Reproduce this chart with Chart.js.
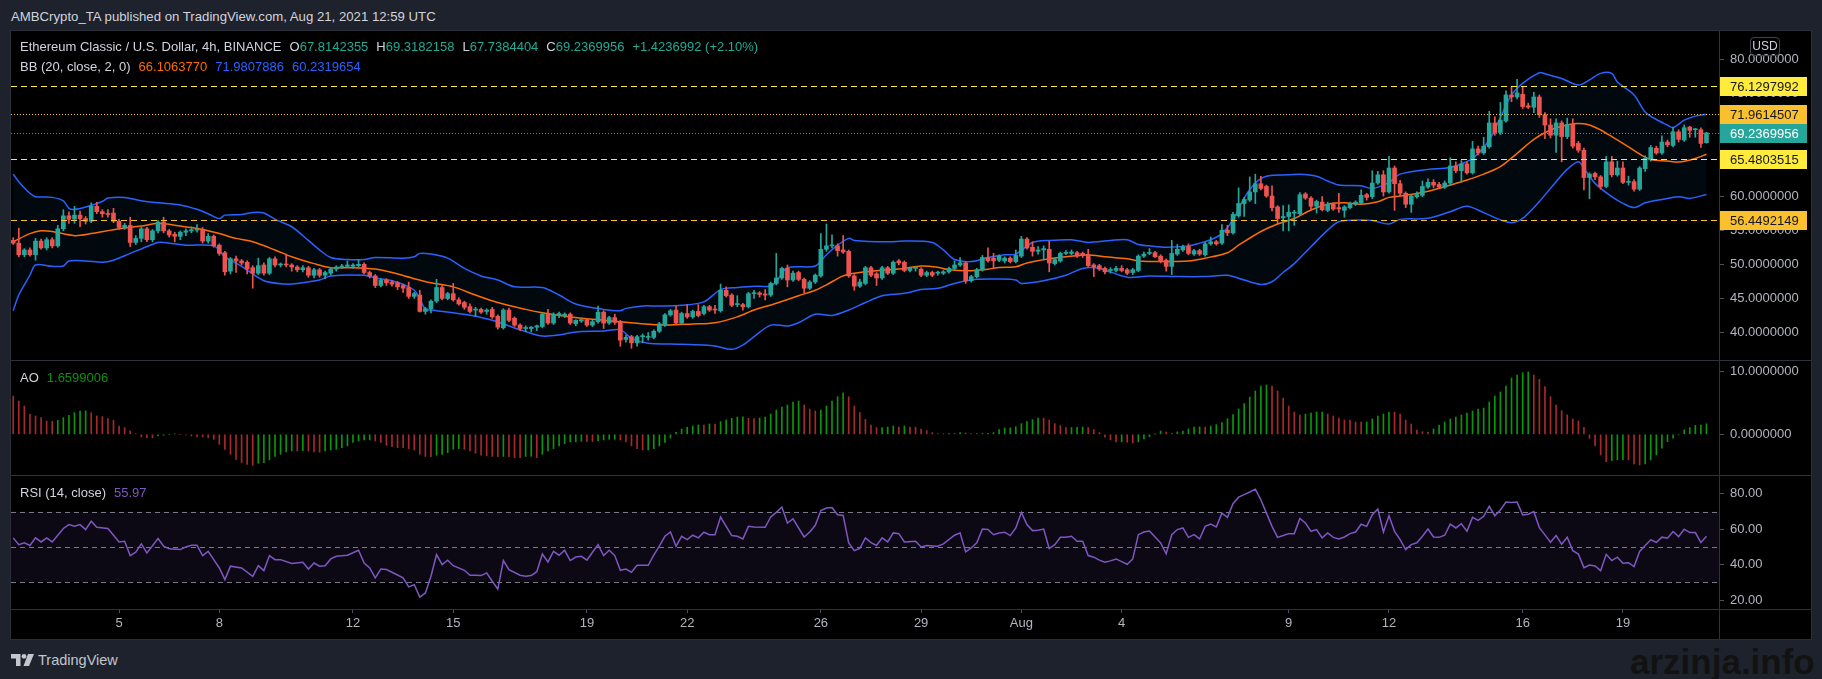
<!DOCTYPE html>
<html>
<head>
<meta charset="utf-8">
<title>ETCUSD 4h</title>
<script src="https://cdn.jsdelivr.net/npm/chart.js@4.4.0/dist/chart.umd.min.js"></script>
<style>
  html, body { margin: 0; padding: 0; }
  body { width: 1822px; height: 679px; background: #1e222d; position: relative; overflow: hidden;
         font-family: "Liberation Sans", Arial, sans-serif; }
  #title { position: absolute; left: 11px; top: 8px; font-size: 13.2px; line-height: 18px; color: #d1d4dc; white-space: pre; }
  #panel { position: absolute; left: 10px; top: 30px; width: 1802px; height: 610px; box-sizing: border-box;
           border: 1px solid #2a2e39; background: #000; }
  .pane { position: absolute; left: 0; width: 1800px; }
  .sep { position: absolute; background: #2e323d; }
  .leg { position: absolute; left: 9px; font-size: 13px; line-height: 16px; color: #d1d4dc; white-space: pre; }
  .leg span { margin-left: 8px; }
  .teal { color: #22ab94; font-weight: normal; }
  #usd { position: absolute; left: 1739px; top: 6px; width: 30px; height: 19px; box-sizing: border-box;
         border: 1px solid #434651; border-radius: 4px; color: #d1d4dc; font-size: 12px; line-height: 17px; text-align: center; }
  #tv { position: absolute; left: 11px; top: 651px; height: 18px; }
  #tvtext { position: absolute; left: 38px; top: 651px; font-size: 14.5px; line-height: 18px; color: #c3c6ce; }
  #wm { position: absolute; left: 1630px; top: 644px; font-size: 35px; line-height: 35px; font-weight: 900; color: #121212; white-space: pre; }
</style>
</head>
<body>
<div id="title">AMBCrypto_TA published on TradingView.com, Aug 21, 2021 12:59 UTC</div>
<div id="panel">
  <div class="pane" style="top:0;height:329px"><canvas id="priceChart"></canvas></div>
  <div class="pane" style="top:330px;height:114px"><canvas id="aoChart"></canvas></div>
  <div class="pane" style="top:445px;height:163px"><canvas id="rsiChart"></canvas></div>
  <div class="sep" style="left:0;top:329px;width:1800px;height:1px"></div>
  <div class="sep" style="left:0;top:444px;width:1800px;height:1px"></div>
  <div class="sep" style="left:0;top:578px;width:1800px;height:1px"></div>
  <div class="sep" style="left:1708px;top:0;width:1px;height:608px"></div>
  <div class="leg" style="top:8px">Ethereum Classic / U.S. Dollar, 4h, BINANCE<span>O<b class="teal">67.8142355</b></span><span>H<b class="teal">69.3182158</b></span><span>L<b class="teal">67.7384404</b></span><span>C<b class="teal">69.2369956</b></span><span class="teal">+1.4236992 (+2.10%)</span></div>
  <div class="leg" style="top:28px">BB (20, close, 2, 0)<span style="color:#ff6d00">66.1063770</span><span style="color:#2962ff">71.9807886</span><span style="color:#2962ff">60.2319654</span></div>
  <div id="usd">USD</div>
  <div class="leg" style="top:339px">AO<span style="color:#0f8f0f">1.6599006</span></div>
  <div class="leg" style="top:454px">RSI (14, close)<span style="color:#7e57c2">55.97</span></div>
</div>
<svg id="tv" width="24" height="14" viewBox="0 0 24 14">
  <path d="M0 1 H9.5 V13 H5 V5.5 H0 Z" fill="#c3c6ce"/>
  <circle cx="13" cy="3.3" r="2.4" fill="#c3c6ce"/>
  <path d="M17 1 H23 L18 13 H12.5 Z" fill="#c3c6ce"/>
</svg>
<div id="tvtext">TradingView</div>
<div id="wm">arzinja.info</div>

<script>
// Velas 4h ETC/USD, índice 0 = 1 jul 20:00
const candleOpen = [
  53.5,53.1,51.4,52.1,51.4,53.4,52.4,53.6,52.7,55.2,
  57.1,56.6,57.2,56.7,56.3,58.5,57.7,57.4,57.5,56.3,
  55.4,55.7,53.2,53.8,55.2,53.6,54.9,56.2,54.9,54.4,
  54.1,54.7,54.9,55.0,55.1,53.4,54.1,52.8,51.7,49.0,
  50.8,50.5,50.3,49.5,48.7,49.9,48.7,50.8,49.9,50.0,
  49.9,49.6,49.2,49.5,48.4,49.2,48.4,48.7,49.3,49.6,
  49.7,49.7,49.8,50.0,48.8,48.3,46.9,47.7,47.4,47.3,
  46.9,46.6,45.3,45.5,43.1,43.5,44.6,46.6,45.0,45.7,
  44.8,44.4,43.8,43.3,43.4,43.1,43.4,42.4,40.7,43.3,
  42.1,41.1,40.6,40.6,40.8,40.9,42.7,41.4,42.5,42.5,
  42.7,41.3,41.7,41.9,41.1,41.6,43.0,41.4,42.2,41.6,
  39.0,39.4,38.5,39.4,39.3,39.3,40.2,41.1,42.6,43.3,
  41.4,42.8,42.3,43.1,42.8,43.8,43.4,43.2,46.2,45.5,
  44.1,44.1,43.8,45.7,45.8,45.6,45.5,47.2,48.0,49.4,
  47.7,48.8,47.8,46.5,47.4,48.3,52.2,52.7,52.7,52.1,
  51.9,48.3,46.8,47.2,49.5,48.6,48.0,49.5,48.7,50.5,
  50.3,49.1,49.4,49.3,48.4,48.8,48.7,48.7,48.9,49.4,
  49.9,50.2,47.6,48.2,49.2,51.0,50.9,50.6,50.5,50.9,
  50.4,51.2,53.7,52.5,51.9,52.1,52.2,50.1,50.5,51.6,
  51.6,51.7,51.6,51.4,49.9,49.8,49.4,49.1,49.1,49.4,
  49.2,48.8,49.1,51.2,51.6,51.7,51.2,50.6,49.7,51.5,
  52.1,52.6,51.5,52.0,51.4,53.0,53.3,53.1,55.0,54.6,
  57.1,58.9,59.4,60.6,61.8,61.4,60.0,58.4,56.8,57.0,
  57.5,57.4,60.3,59.7,58.5,59.1,57.9,58.8,58.3,57.9,
  58.3,58.8,59.0,60.2,59.9,61.9,63.1,60.6,64.1,61.8,
  60.4,58.8,59.9,60.1,61.3,62.0,61.7,61.3,61.9,64.4,
  63.7,64.7,63.4,66.9,66.3,67.2,70.7,69.3,71.0,74.8,
  74.5,74.9,73.2,73.0,74.5,71.9,70.4,68.9,70.7,68.7,
  70.5,67.7,66.7,62.7,63.3,62.8,61.4,65.0,63.1,64.1,
  62.0,62.1,61.0,64.0,65.3,67.0,66.3,67.9,67.4,69.4,
  68.2,70.1,69.7,69.7,67.81
];
const candleHigh = [
  53.9,55.3,52.3,52.4,53.8,53.7,53.9,53.9,55.7,58.0,
  57.7,58.5,57.8,57.0,59.0,59.1,58.0,58.0,58.2,56.6,
  56.0,56.9,54.2,55.4,55.4,55.1,56.4,56.9,55.1,54.7,
  54.9,55.2,55.5,55.8,55.4,54.5,54.3,53.0,51.9,51.0,
  51.2,50.7,50.5,49.8,50.9,50.2,51.0,51.1,50.2,51.5,
  50.1,49.8,49.8,49.7,49.4,49.4,49.0,49.5,49.8,50.0,
  50.5,50.1,50.7,50.2,49.0,48.5,47.9,47.9,47.6,47.5,
  47.1,47.4,45.9,46.2,43.7,44.8,47.8,46.9,45.9,47.2,
  45.1,44.6,44.2,43.7,43.6,43.5,43.7,42.6,43.5,43.6,
  42.3,41.3,41.0,40.9,41.1,42.9,43.4,42.9,43.0,42.9,
  42.9,41.9,42.1,42.1,41.8,43.9,43.2,42.4,42.7,41.8,
  39.6,39.6,39.6,39.8,40.0,40.4,41.5,42.8,43.4,43.9,
  43.0,44.1,43.3,44.1,44.0,44.0,44.0,47.1,46.7,45.7,
  45.4,44.3,45.9,46.2,46.0,46.3,47.4,51.6,49.6,49.9,
  49.0,49.0,48.0,47.6,48.6,54.5,55.9,54.3,53.0,54.2,
  52.1,48.5,47.8,49.7,49.7,48.8,49.7,49.7,50.5,50.7,
  50.5,49.6,49.7,49.5,49.0,49.0,49.0,49.1,49.6,50.5,
  51.0,50.4,48.4,49.4,51.3,52.4,51.6,51.4,51.1,51.1,
  52.1,54.1,53.9,53.3,52.6,52.7,53.4,50.9,51.8,52.0,
  52.1,51.9,51.8,52.2,50.1,50.0,49.6,49.5,49.7,49.8,
  49.4,49.4,51.4,51.8,52.3,51.9,51.4,50.8,53.5,52.9,
  52.8,53.0,52.2,52.2,53.2,54.0,53.5,55.8,55.7,57.6,
  61.2,59.8,62.8,63.2,62.9,61.6,61.5,58.6,58.6,58.7,
  57.9,60.5,60.5,59.9,59.4,59.9,59.1,59.0,60.4,58.6,
  59.1,59.3,60.9,60.4,63.7,63.6,63.7,65.8,64.4,62.3,
  60.6,60.2,60.6,62.2,62.5,62.4,62.0,62.2,65.6,65.0,
  65.2,65.0,68.0,67.3,68.6,72.4,71.6,73.7,75.4,75.9,
  77.1,76.0,73.6,75.2,74.8,72.2,71.3,71.3,71.0,71.4,
  71.3,68.0,67.0,63.4,63.5,63.0,65.8,65.8,65.1,65.0,
  62.9,62.4,64.3,65.9,67.4,67.3,68.8,68.2,70.1,69.7,
  70.4,70.2,69.9,70.0,69.32
];
const candleLow = [
  52.9,51.1,51.1,51.2,50.6,52.2,52.1,52.4,52.5,54.9,
  56.0,56.0,55.5,55.9,56.1,57.4,56.9,56.9,56.1,55.1,
  55.1,52.6,52.9,53.3,53.3,53.3,54.6,54.6,54.0,53.3,
  53.6,54.2,54.6,54.7,53.1,53.1,52.5,51.3,48.4,48.6,
  48.8,49.9,48.6,46.5,48.5,48.4,48.5,49.6,49.6,49.6,
  49.0,48.9,48.9,48.1,48.0,48.1,47.9,48.4,49.0,49.4,
  49.5,49.4,49.6,48.6,48.0,46.6,46.7,46.9,46.8,46.3,
  45.9,45.0,45.0,43.0,42.7,42.9,44.4,44.8,44.8,44.6,
  44.0,43.4,42.9,42.4,42.8,42.7,42.1,40.5,40.5,41.6,
  40.9,40.3,40.1,40.1,40.3,40.7,41.2,41.2,42.2,42.2,
  41.2,41.0,41.5,40.9,40.9,41.4,40.6,41.2,41.2,38.0,
  38.6,37.7,38.0,38.5,38.9,39.1,40.0,40.9,42.4,41.2,
  41.2,42.1,42.1,42.3,42.6,43.1,42.8,43.0,45.2,43.8,
  43.8,43.3,43.6,45.0,45.2,44.8,45.3,47.0,47.8,46.7,
  47.5,47.6,45.8,46.3,47.2,48.1,51.9,52.4,51.2,51.6,
  48.1,46.2,46.6,47.0,48.2,46.9,47.8,48.5,48.5,49.9,
  48.9,48.9,49.0,48.2,48.2,48.2,48.4,48.5,48.7,49.2,
  49.7,47.2,47.4,48.0,49.0,50.3,49.4,50.4,50.2,50.2,
  50.2,51.0,52.2,51.2,51.5,50.6,48.9,49.9,50.3,51.4,
  51.4,51.0,51.0,49.6,48.2,49.1,48.6,48.7,48.9,48.9,
  48.5,48.5,48.9,51.0,51.4,51.0,50.2,49.0,48.5,51.3,
  51.9,51.4,51.3,51.3,51.2,52.8,52.8,52.9,54.2,54.4,
  56.9,57.0,59.2,58.9,60.9,59.8,57.8,55.9,54.9,54.9,
  55.7,57.2,59.5,57.9,57.5,57.8,57.7,57.9,57.6,56.9,
  58.1,58.6,58.8,59.4,59.6,61.7,60.0,60.4,57.9,60.0,
  58.3,57.6,59.7,59.9,61.1,61.2,61.1,61.1,61.6,63.4,
  62.0,63.2,63.2,66.0,66.1,67.0,68.9,69.0,70.8,73.8,
  74.2,72.8,72.8,72.2,71.5,68.4,68.5,66.4,65.0,68.4,
  67.0,66.4,60.9,59.6,62.4,61.0,61.2,62.8,62.9,61.8,
  61.6,60.7,60.8,63.6,65.1,66.1,66.1,67.2,67.2,67.9,
  68.0,68.6,68.6,67.1,67.74
];
const candleClose = [
  53.1,51.4,52.1,51.4,53.4,52.4,53.6,52.7,55.2,57.1,
  56.6,57.2,56.7,56.3,58.5,57.7,57.4,57.3,56.3,55.4,
  55.7,53.2,53.8,55.2,53.6,54.9,56.2,54.9,54.3,54.1,
  54.7,54.9,55.0,55.1,53.4,54.1,52.7,51.6,48.9,50.8,
  50.5,50.2,49.3,48.7,49.8,48.7,50.8,49.9,50.0,49.9,
  49.6,49.2,49.5,48.4,49.2,48.4,48.8,49.3,49.6,49.7,
  49.9,49.9,50.0,48.8,48.3,46.9,47.7,47.3,47.1,46.7,
  46.5,45.3,45.7,43.1,43.5,44.6,46.6,45.0,45.7,44.8,
  44.2,43.7,43.1,43.3,43.0,43.3,42.3,40.8,43.3,41.8,
  41.1,40.6,40.6,40.8,41.0,42.7,41.4,42.7,42.8,42.7,
  41.4,41.8,41.9,41.1,41.6,43.0,41.4,42.2,41.5,38.9,
  39.3,38.5,39.4,39.4,39.3,40.2,41.3,42.6,43.2,41.4,
  42.8,42.3,43.1,42.5,43.8,43.3,43.3,46.2,45.4,44.0,
  44.1,43.8,45.7,45.8,45.6,45.5,47.2,48.0,49.4,47.7,
  48.7,47.8,46.5,47.4,48.4,52.2,52.7,52.8,52.0,51.8,
  48.3,46.8,47.4,49.5,48.4,48.0,49.5,48.7,50.3,50.2,
  49.1,49.4,49.4,48.4,48.8,48.4,48.7,48.9,49.4,49.9,
  50.2,47.6,48.2,49.2,51.0,50.5,50.5,51.2,50.9,50.4,
  51.3,53.7,52.4,51.9,52.1,52.3,50.2,50.7,51.6,51.7,
  51.8,51.2,51.3,49.8,49.6,49.3,48.9,49.2,49.4,49.1,
  48.7,49.2,51.2,51.5,51.7,51.1,50.4,49.7,51.6,52.2,
  52.6,51.6,52.0,51.5,53.0,53.3,53.0,55.0,54.6,57.3,
  58.9,59.5,60.6,61.8,61.1,60.0,58.3,56.7,57.0,57.6,
  57.5,60.2,59.7,58.5,59.2,58.0,58.8,58.1,58.1,58.4,
  58.9,59.1,60.1,59.8,61.9,63.1,60.6,64.1,61.8,60.4,
  58.8,60.0,60.2,61.4,62.0,61.6,61.3,61.9,64.4,63.7,
  64.7,63.4,66.9,66.3,67.3,70.7,69.3,71.1,74.8,74.5,
  75.1,73.1,73.0,74.5,71.9,70.4,68.9,70.7,68.7,70.5,
  67.3,66.7,62.7,63.2,62.8,61.4,65.0,63.1,64.1,62.0,
  62.1,61.0,64.1,65.5,67.1,66.3,67.9,67.5,69.4,68.3,
  70.0,69.6,69.7,67.7,69.24
];

// Bandas de Bollinger (índice de vela, valor)
const bbUpperIdx = [0,1,3,4,7,9,10,11,13,16,17,20,23,26,30,33,35,37,38,41,43,45,47,50,53,55,57,60,63,65,70,72,73,75,78,81,84,87,
  90,95,98,101,106,109,110,113,116,120,124,127,130,133,136,137,139,144,146,148,150,151,157,160,165,167,169,172,175,
  178,180,183,186,190,193,197,200,202,204,207,211,213,215,217,219,221,223,225,229,231,234,236,238,242,244,247,
  249,254,257,259,262,265,267,269,271,274,275,278,281,283,285,287,288,291,293,295,297,298,300,302,304];
const bbUpperVal = [63.2,62.1,60.4,59.9,59.8,59.3,58.2,58.05,58.4,59.2,59.7,59.8,59.3,59.0,58.7,58.05,57.4,56.7,57.2,57.3,57.6,57.5,56.6,55.5,53.5,52.1,51.0,50.7,50.7,51.0,50.9,51.1,51.6,51.5,50.9,49.4,48.3,47.7,
  46.7,46.6,45.5,44.2,43.4,43.2,43.55,43.9,43.9,44.0,44.5,46.3,46.6,46.8,46.8,47.5,49.5,49.75,51.4,52.8,53.8,53.5,53.3,53.4,53.2,52.1,50.7,50.4,51.0,
  51.4,51.5,53.2,53.5,53.6,53.2,53.5,53.6,52.9,52.7,52.5,52.7,53.1,53.6,54.5,56.5,59.7,61.9,62.9,63.1,63.2,62.9,62.2,61.6,61.5,61.1,62.0,
  63.2,63.9,64.05,64.4,65.5,68.2,71.5,74.8,76.5,78.05,77.9,77.2,76.25,77.0,77.96,77.96,76.7,74.8,72.3,71.2,70.4,70.0,71.1,71.7,71.98];
const bbBasisIdx = [0,3,5,7,11,14,19,23,26,30,34,37,40,43,47,50,54,57,61,65,68,72,75,79,83,87,
  92,95,100,106,112,117,122,126,130,133,137,141,144,146,149,151,155,160,163,166,168,172,175,
  177,180,182,186,189,193,196,200,202,206,211,214,218,220,224,227,230,233,236,239,242,245,247,
  249,253,257,261,264,267,270,273,276,279,281,283,285,287,290,292,294,297,299,302,304];
const bbBasisVal = [53.3,54.5,54.9,54.8,54.2,54.5,55.2,55.6,56.0,55.6,55.1,54.5,53.8,53.3,52.1,51.1,50.1,49.5,49.5,49.3,48.8,47.9,47.3,46.7,45.5,44.4,
  43.4,42.9,42.3,41.8,41.36,41.1,41.26,41.45,42.3,43.3,44.3,45.4,46.2,47.0,48.3,48.7,49.07,49.4,49.75,49.56,49.2,49.07,49.27,
  49.55,49.65,50.2,50.8,51.1,51.36,51.1,50.8,50.5,50.4,50.5,50.9,51.7,52.8,54.8,55.9,56.7,57.95,58.8,59.0,58.8,59.17,59.8,
  60.0,60.5,61.36,62.34,63.2,64.3,66.24,68.3,69.66,70.4,70.6,70.4,69.66,68.7,67.2,66.15,65.36,65.12,64.97,65.5,66.11];
const bbLowerIdx = [0,1,3,4,7,9,10,13,16,18,21,23,26,28,31,36,38,41,45,49,51,55,57,63,65,68,72,74,75,79,83,86,
  88,92,95,98,101,106,109,111,114,118,124,126,129,131,133,136,139,141,144,147,150,153,156,160,163,166,169,173,
  177,180,181,185,189,192,195,200,204,209,214,218,221,224,226,228,230,233,236,238,242,244,247,
  249,254,258,261,264,267,269,271,274,277,279,281,282,284,287,289,291,293,296,299,301,304];
const bbLowerVal = [43.2,45.5,48.4,49.9,49.7,49.75,50.5,50.5,50.3,50.6,51.6,52.25,53.2,53.1,52.8,52.7,51.1,49.7,47.6,47.1,47.2,47.7,48.3,48.4,48.0,47.6,46.2,43.4,43.3,42.9,42.4,41.8,
  41.26,40.14,39.5,39.65,40.1,40.24,40.4,39.16,38.43,38.33,38.18,38.04,37.55,38.18,39.4,41.1,40.97,41.45,42.7,42.5,43.3,44.4,45.4,45.75,46.3,46.48,47.2,47.8,
  47.85,47.7,47.2,47.6,48.4,49.4,49.4,48.1,48.3,48.2,48.2,48.4,47.7,47.06,47.45,48.8,50.1,52.58,55.0,56.24,56.5,56.4,55.9,
  56.58,56.73,57.7,58.5,57.56,56.5,56.1,56.73,59.2,62.1,63.9,65.0,64.05,61.85,59.9,58.92,58.3,59.0,59.5,59.9,59.65,60.23];

// Awesome Oscillator, una barra por vela
const aoValues = [
  6.05,5.26,4.47,3.16,2.9,2.63,2.1,2.05,2.2,2.63,
  3.0,3.42,3.68,3.7,3.42,2.9,2.79,2.47,2.2,1.3,
  1.05,0.53,0.1,-0.42,-0.53,-0.55,-0.26,-0.16,0.0,0.05,
  0.0,-0.1,-0.26,-0.37,-0.4,-0.53,-0.79,-1.58,-2.37,-3.16,
  -3.95,-4.47,-4.74,-4.9,-4.58,-4.47,-4.05,-3.5,-3.16,-2.8,
  -2.63,-2.65,-2.6,-2.65,-2.8,-2.82,-2.63,-2.47,-2.37,-2.1,
  -1.84,-1.3,-1.05,-0.9,-0.88,-1.05,-1.3,-1.74,-1.95,-2.1,
  -2.12,-2.26,-2.47,-3.16,-3.5,-3.52,-3.3,-3.16,-2.9,-2.37,
  -2.26,-2.37,-2.63,-3.0,-3.3,-3.42,-3.5,-3.52,-3.5,-3.55,
  -3.68,-3.7,-3.5,-3.48,-3.68,-3.16,-2.63,-2.26,-1.84,-1.47,
  -1.2,-1.18,-1.1,-1.12,-1.15,-1.05,-0.9,-0.79,-0.78,-0.9,
  -1.2,-1.84,-2.26,-2.47,-2.45,-2.26,-1.84,-1.3,-0.6,0.3,
  0.84,1.1,1.31,1.47,1.45,1.63,1.6,2.0,2.26,2.52,
  2.73,2.75,2.52,2.5,2.57,2.73,3.2,3.84,4.31,4.63,
  5.1,5.26,4.63,4.0,3.68,3.84,4.47,5.26,5.94,6.57,
  5.94,4.47,3.42,2.36,1.47,1.05,1.07,1.15,1.31,1.15,
  1.31,1.15,1.13,0.84,0.58,0.26,0.1,0.05,0.1,0.12,
  0.26,0.2,0.1,0.11,0.12,0.14,0.26,0.73,1.0,1.02,
  1.2,1.68,2.0,2.31,2.57,2.55,2.26,1.68,1.37,1.05,
  1.07,1.09,1.15,1.05,0.73,0.26,-0.45,-0.9,-1.2,-1.2,
  -1.25,-1.37,-1.2,-0.74,-0.37,0.02,0.52,0.37,0.16,0.37,
  0.52,0.84,1.15,1.16,1.13,1.31,1.52,1.84,2.47,3.1,
  4.0,4.84,5.89,6.84,7.63,7.78,7.63,6.84,5.74,4.47,
  3.52,3.05,3.2,3.36,3.52,3.53,3.2,2.89,2.57,2.26,
  2.24,1.94,1.92,1.94,2.42,2.89,3.2,3.52,3.5,3.2,
  2.26,1.63,0.68,0.42,0.37,0.84,1.47,1.94,2.42,2.73,
  3.05,3.36,3.68,4.0,4.15,5.1,6.05,6.7,7.63,8.9,
  9.36,9.73,9.84,9.36,8.68,7.52,5.94,4.63,3.73,3.05,
  2.42,2.1,1.1,-0.63,-1.84,-3.26,-4.32,-4.15,-4.05,-4.0,
  -4.05,-4.68,-4.84,-4.68,-4.05,-3.26,-2.21,-1.16,-0.63,-0.1,
  0.68,1.05,1.4,1.45,1.66
];

// RSI (14) leído vértice a vértice
const rsiIdx = [0,1,2,3,4,5,6,7,9,10,11,12,13,14,15,17,19,20,21,22,23,24,26,27,28,30,31,32,33,34,35,36,37,38,39,41,43,44,45,46,47,48,50,52,53,54,55,56,57,58,60,62,63,64,65,66,67,68,70,71,72,73,74,75,76,77,78,79,81,82,83,84,85,86,87,88,89,91,92,93,94,95,96,97,98,99,100,101,102,103,104,105,106,107,108,109,110,111,112,114,115,116,117,118,119,
  120,121,122,123,124,125,126,127,129,130,131,132,133,135,136,137,138,139,140,142,143,144,145,146,147,148,149,150,151,152,153,154,155,156,157,158,159,160,162,163,164,166,167,169,170,171,172,173,174,175,176,177,178,179,180,181,182,183,184,185,186,187,188,189,190,191,192,193,194,
  195,196,197,198,199,200,201,202,203,204,205,206,207,208,209,210,211,212,213,214,215,216,217,218,219,220,221,222,223,224,225,226,227,228,229,230,231,232,233,234,235,236,237,238,239,240,241,242,243,244,245,246,247,248,249,250,251,252,253,254,255,256,257,258,259,260,261,262,263,264,265,266,
  267,268,269,270,271,272,273,274,275,276,277,278,279,280,281,282,283,284,285,286,287,288,289,290,291,292,293,294,295,296,297,298,299,300,301,302,303,304];
const rsiVal = [55.1,51.3,52.3,50.8,55.1,52.8,55.1,52.8,60.4,62.6,61.7,62.6,59.8,64.5,61.1,60.4,52.8,53.2,45.1,47.0,51.7,46.6,54.7,50.4,48.9,48.5,50.0,50.9,50.9,45.1,47.5,42.8,38.1,31.5,39.1,38.1,33.4,39.4,36.6,45.1,42.8,42.8,40.6,41.3,37.5,40.9,39.1,39.4,43.2,44.7,45.3,48.1,40.9,38.1,32.5,37.5,37.2,35.7,32.5,27.4,28.7,21.7,24.0,33.4,45.7,40.0,42.5,39.4,36.8,34.0,34.0,33.8,35.3,30.6,26.2,42.3,37.2,34.0,33.4,33.8,36.0,46.0,41.5,47.5,45.3,48.1,42.3,44.3,44.7,42.5,47.0,51.3,45.1,48.1,45.1,36.8,37.5,35.7,39.6,39.6,45.3,50.4,56.0,58.5,50.4,
  56.0,54.1,56.6,55.1,58.3,56.9,56.9,66.9,56.4,56.0,54.5,61.6,61.3,61.1,66.9,69.5,72.5,63.5,65.9,55.6,58.4,62.2,70.6,72.0,72.3,68.2,67.8,52.3,47.9,49.2,55.1,52.4,50.8,55.1,52.8,57.9,57.5,52.8,53.2,50.0,50.8,50.4,51.7,56.6,57.9,47.2,49.4,52.3,60.1,59.9,56.9,57.9,58.3,56.4,60.7,69.5,62.6,59.2,59.4,60.1,49.1,51.3,55.4,55.4,56.0,53.2,53.2,45.1,44.2,
  42.5,41.4,42.1,43.2,41.7,40.2,43.2,56.9,58.4,59.0,55.6,52.3,46.1,56.9,59.8,60.7,55.4,56.9,54.5,61.6,62.9,61.3,69.1,66.7,74.4,78.1,79.5,81.0,82.6,76.6,69.1,61.6,55.4,56.4,57.5,57.5,66.1,63.5,58.8,59.8,55.1,57.9,55.4,54.5,55.6,57.5,58.4,62.8,61.6,68.2,71.4,58.4,67.6,58.8,54.1,48.5,51.3,52.3,56.0,60.1,55.6,55.4,56.6,62.9,60.7,63.1,58.8,66.7,65.0,67.3,72.9,67.6,
  70.9,75.3,75.1,75.3,68.1,68.5,70.0,60.9,56.8,52.6,56.4,51.5,55.5,47.9,46.0,38.3,39.8,39.2,36.6,45.8,42.3,44.2,40.8,41.1,38.9,47.4,50.8,54.0,52.6,55.5,54.9,58.7,55.8,60.0,58.1,58.1,52.5,55.97];

// Eje de tiempo y niveles
const tickIdx = [19, 37, 61, 79, 103, 121, 145, 163, 181, 199, 229, 247, 271, 289];
const tickLabels = ['5', '8', '12', '15', '19', '22', '26', '29', 'Aug', '4', '9', '12', '16', '19'];
const priceTicks = [40, 45, 50, 55, 60, 65, 70, 75, 80];
const aoTicks = [0, 10];
const rsiTicks = [20, 40, 60, 80];
const priceLevels = [76.1297992, 71.9614507, 69.2369956, 65.4803515, 56.4492149];
const rsiLevels = [70, 50, 30];

// estilos de las lineas horizontales (mismo orden que priceLevels)
const levelStyles = [
  { line: '#ffeb3b', dash: [6, 4], box: '#ffeb3b', text: '#131722' },
  { line: '#fbc02d', dash: [1, 2], box: '#fbc02d', text: '#131722' },
  { line: '#26a69a', dash: [1, 2], box: '#26a69a', text: '#ffffff' },
  { line: '#ffeb3b', dash: [6, 4], box: '#ffeb3b', text: '#131722' },
  { line: '#fbc02d', dash: [6, 4], box: '#fbc02d', text: '#131722' },
];

const FONT = '"Liberation Sans", Arial, sans-serif';
Chart.defaults.font.family = FONT;
Chart.defaults.font.size = 13;
Chart.defaults.color = '#b2b5be';

const X_MIN = -0.4, X_MAX = 306.25;
const AXIS_W = 92;
const UP = '#26a69a', DOWN = '#ef5350';

const pts = (xs, ys) => xs.map((x, k) => ({ x: x, y: ys[k] }));
const idx = candleClose.map((_, i) => i);

function xScale(show) {
  return {
    type: 'linear', min: X_MIN, max: X_MAX, offset: false, display: show,
    afterBuildTicks: (s) => { s.ticks = tickIdx.map((v) => ({ value: v })); },
    afterFit: (s) => {
      if (show) { s.height = 30; } // solo el eje visible ocupa sitio
      s.paddingLeft = 0; s.paddingRight = 0;
    },
    ticks: {
      autoSkip: false, maxRotation: 0, padding: 3,
      callback: (v) => tickLabels[tickIdx.indexOf(v)],
    },
    grid: { drawOnChartArea: false, tickLength: 4, color: '#4c525e' },
    border: { display: false },
  };
}

function yScale(min, max, tickVals, decimals) {
  return {
    position: 'right', min: min, max: max,
    afterFit: (s) => { s.width = AXIS_W; s.paddingTop = 0; s.paddingBottom = 0; },
    afterBuildTicks: (s) => { s.ticks = tickVals.map((v) => ({ value: v })); },
    ticks: { padding: 6, callback: (v) => Number(v).toFixed(decimals) },
    grid: { drawOnChartArea: false, tickLength: 5, color: '#4c525e' },
    border: { display: false },
  };
}

const baseOptions = {
  animation: false, responsive: true, maintainAspectRatio: false, events: [],
  layout: { padding: 0 },
  plugins: { legend: { display: false }, tooltip: { enabled: false } },
};

// lineas horizontales + etiquetas de precio sobre el eje
const priceLevelsPlugin = {
  id: 'priceLevels',
  afterDatasetsDraw(chart) {
    const { ctx, chartArea, scales } = chart;
    priceLevels.forEach((v, k) => {
      const st = levelStyles[k];
      const py = Math.round(scales.y.getPixelForValue(v)) + 0.5;
      ctx.save();
      ctx.strokeStyle = st.line;
      ctx.lineWidth = 1;
      ctx.setLineDash(st.dash);
      ctx.beginPath();
      ctx.moveTo(chartArea.left, py);
      ctx.lineTo(chartArea.right, py);
      ctx.stroke();
      ctx.setLineDash([]);
      ctx.fillStyle = st.box;
      ctx.fillRect(chartArea.right, py - 9.5, 88, 19);
      ctx.fillStyle = st.text;
      ctx.font = '13px ' + FONT;
      ctx.textBaseline = 'middle';
      ctx.fillText(v.toFixed(7), chartArea.right + 11, py + 0.5);
      ctx.restore();
    });
  },
};

const rsiBandPlugin = {
  id: 'rsiBand',
  beforeDatasetsDraw(chart) {
    const { ctx, chartArea, scales } = chart;
    const top = scales.y.getPixelForValue(rsiLevels[0]);
    const bot = scales.y.getPixelForValue(rsiLevels[rsiLevels.length - 1]);
    ctx.save();
    ctx.fillStyle = 'rgba(126, 87, 194, 0.1)';
    ctx.fillRect(chartArea.left, top, chartArea.right - chartArea.left, bot - top);
    ctx.strokeStyle = '#787b86';
    ctx.lineWidth = 1;
    ctx.setLineDash([5, 4]);
    rsiLevels.forEach((v) => {
      const py = Math.round(scales.y.getPixelForValue(v)) + 0.5;
      ctx.beginPath();
      ctx.moveTo(chartArea.left, py);
      ctx.lineTo(chartArea.right, py);
      ctx.stroke();
    });
    ctx.restore();
  },
};

// Grafico de precio: velas + bandas de bollinger
const candleColors = idx.map((i) => (candleClose[i] >= candleOpen[i] ? UP : DOWN));

new Chart(document.getElementById('priceChart'), {
  type: 'bar',
  data: {
    datasets: [
      {
        type: 'line', label: 'BB upper', data: pts(bbUpperIdx, bbUpperVal),
        borderColor: '#2962ff', borderWidth: 1.5, pointRadius: 0, tension: 0.3, fill: false, order: 2,
      },
      {
        type: 'line', label: 'BB lower', data: pts(bbLowerIdx, bbLowerVal),
        borderColor: '#2962ff', borderWidth: 1.5, pointRadius: 0, tension: 0.3,
        fill: '-1', backgroundColor: 'rgba(33, 150, 243, 0.06)', order: 2,
      },
      {
        type: 'line', label: 'BB basis', data: pts(bbBasisIdx, bbBasisVal),
        borderColor: '#ff6d00', borderWidth: 1.5, pointRadius: 0, tension: 0.3, fill: false, order: 1,
      },
      {
        label: 'wicks', data: idx.map((i) => ({ x: i, y: [candleLow[i], candleHigh[i]] })),
        backgroundColor: candleColors, barThickness: 1, grouped: false, order: 0,
      },
      {
        label: 'bodies',
        data: idx.map((i) => ({ x: i, y: [Math.min(candleOpen[i], candleClose[i]), Math.max(candleOpen[i], candleClose[i])] })),
        backgroundColor: candleColors, barThickness: 4, minBarLength: 1, grouped: false, order: 0,
      },
    ],
  },
  options: Object.assign({}, baseOptions, {
    scales: { x: xScale(false), y: yScale(35.99, 84.16, priceTicks, 7) },
  }),
  plugins: [priceLevelsPlugin],
});

// Awesome Oscillator
const aoColors = aoValues.map((v, i) => (i > 0 && v >= aoValues[i - 1] ? '#0c960c' : '#a8292c'));

new Chart(document.getElementById('aoChart'), {
  type: 'bar',
  data: {
    datasets: [{
      label: 'AO', data: pts(idx, aoValues), backgroundColor: aoColors, barThickness: 1, grouped: false,
    }],
  },
  options: Object.assign({}, baseOptions, {
    scales: { x: xScale(false), y: yScale(-6.43, 11.58, aoTicks, 7) },
  }),
});

// RSI
new Chart(document.getElementById('rsiChart'), {
  type: 'line',
  data: {
    datasets: [{
      label: 'RSI', data: pts(rsiIdx, rsiVal), borderColor: '#7e57c2', borderWidth: 1.5,
      pointRadius: 0, tension: 0, fill: false,
    }],
  },
  options: Object.assign({}, baseOptions, {
    scales: { x: xScale(true), y: yScale(14.92, 90.06, rsiTicks, 2) },
  }),
  plugins: [rsiBandPlugin],
});
</script>
</body>
</html>
